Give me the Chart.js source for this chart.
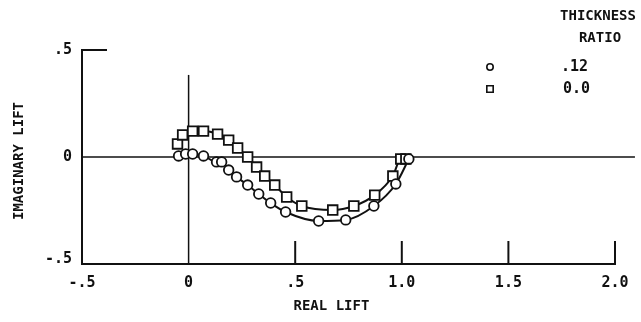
<!DOCTYPE html>
<html>
<head>
<meta charset="utf-8">
<script src="https://cdn.jsdelivr.net/npm/chart.js@4/dist/chart.umd.min.js"></script>
<style>
  html, body { margin: 0; padding: 0; background: #fff; }
  #wrap { width: 641px; height: 322px; }
</style>
</head>
<body>
<div id="wrap"><canvas id="liftChart" width="641" height="322"></canvas></div>
<script>
// Thickness ratio .12 (circles)
const thickRealLift = [-0.047, -0.014, 0.019, 0.070, 0.131, 0.155, 0.188, 0.225, 0.277, 0.329, 0.385, 0.455, 0.610, 0.737, 0.869, 0.972, 1.033];
const thickImagLift = [0.005, 0.014, 0.014, 0.005, -0.023, -0.023, -0.061, -0.093, -0.131, -0.173, -0.215, -0.257, -0.299, -0.294, -0.229, -0.126, -0.009];

// Thickness ratio 0.0 (squares)
const flatRealLift = [-0.052, -0.028, 0.019, 0.070, 0.136, 0.188, 0.230, 0.277, 0.319, 0.357, 0.404, 0.460, 0.531, 0.676, 0.775, 0.873, 0.958, 0.995, 1.019];
const flatImagLift = [0.061, 0.103, 0.121, 0.121, 0.107, 0.079, 0.042, 0.000, -0.047, -0.089, -0.131, -0.187, -0.229, -0.248, -0.229, -0.178, -0.089, -0.009, -0.009];

const xTicks = [-0.5, 0, 0.5, 1.0, 1.5, 2.0];
const xTickLabels = ['-.5', '0', '.5', '1.0', '1.5', '2.0'];
const yTicks = [-0.5, 0, 0.5];
const yTickLabels = ['-.5', '0', '.5'];

const legendTitle = ['THICKNESS', 'RATIO'];
const legendLabels = ['.12', '0.0'];

const FONT = '"DejaVu Sans Mono", "Liberation Mono", monospace';

function toPoints(xs, ys) {
    return xs.map((x, i) => ({ x: x, y: ys[i] }));
}

// axes, ticks, zero lines, labels and the legend are drawn by hand
const paperAxes = {
    id: 'paperAxes',
    beforeDatasetsDraw(chart) {
        const ctx = chart.ctx;
        const xs = chart.scales.x;
        const ys = chart.scales.y;
        const left = xs.getPixelForValue(-0.5);
        const right = xs.getPixelForValue(2.0);
        const top = ys.getPixelForValue(0.5);
        const bottom = ys.getPixelForValue(-0.5);
        const x0 = xs.getPixelForValue(0);
        const y0 = ys.getPixelForValue(0);

        ctx.save();
        ctx.strokeStyle = '#111';
        ctx.lineCap = 'square';

        // frame: left and bottom
        ctx.lineWidth = 2;
        ctx.beginPath();
        ctx.moveTo(left, top);
        ctx.lineTo(left, bottom);
        ctx.lineTo(right, bottom);
        ctx.stroke();

        // top tick on the y axis
        ctx.beginPath();
        ctx.moveTo(left, top);
        ctx.lineTo(left + 24, top);
        ctx.stroke();

        // x ticks
        xTicks.forEach(v => {
            if (v === -0.5 || v === 0) return;
            const px = xs.getPixelForValue(v);
            ctx.beginPath();
            ctx.moveTo(px, bottom);
            ctx.lineTo(px, bottom - 22);
            ctx.stroke();
        });

        // zero lines
        ctx.lineWidth = 1.5;
        ctx.beginPath();
        ctx.moveTo(left, y0);
        ctx.lineTo(xs.getPixelForValue(2.09), y0);
        ctx.stroke();
        ctx.beginPath();
        ctx.moveTo(x0, bottom);
        ctx.lineTo(x0, ys.getPixelForValue(0.38));
        ctx.stroke();

        // tick labels
        ctx.fillStyle = '#111';
        ctx.font = 'bold 15px ' + FONT;
        ctx.textAlign = 'center';
        ctx.textBaseline = 'middle';
        xTicks.forEach((v, i) => {
            ctx.fillText(xTickLabels[i], xs.getPixelForValue(v), bottom + 19);
        });
        ctx.textAlign = 'right';
        yTicks.forEach((v, i) => {
            const py = ys.getPixelForValue(v) - (v === -0.5 ? 5 : 0);
            ctx.fillText(yTickLabels[i], left - 10, py);
        });

        // axis titles
        ctx.font = 'bold 14px ' + FONT;
        ctx.textAlign = 'center';
        ctx.fillText('REAL LIFT', xs.getPixelForValue(0.67), bottom + 42);
        ctx.save();
        ctx.translate(19, y0 + 4);
        ctx.rotate(-Math.PI / 2);
        ctx.fillText('IMAGINARY LIFT', 0, 0);
        ctx.restore();

        // legend
        ctx.font = 'bold 14px ' + FONT;
        ctx.fillText(legendTitle[0], 598, 16);
        ctx.fillText(legendTitle[1], 600, 38);
        ctx.font = 'bold 15px ' + FONT;
        ctx.textAlign = 'left';
        ctx.fillText(legendLabels[0], 561, 67);
        ctx.fillText(legendLabels[1], 563, 89);
        ctx.lineWidth = 1.6;
        ctx.fillStyle = '#fff';
        Chart.helpers.drawPoint(ctx, { pointStyle: 'circle', radius: 3.2, borderWidth: 1.6 }, 490, 67);
        Chart.helpers.drawPoint(ctx, { pointStyle: 'rect', radius: 4.5, borderWidth: 1.6 }, 490, 89);
        ctx.restore();
    }
};

new Chart(document.getElementById('liftChart').getContext('2d'), {
    type: 'scatter',
    data: {
        datasets: [
            {
                label: '.12',
                data: toPoints(thickRealLift, thickImagLift),
                showLine: true,
                borderColor: '#111',
                borderWidth: 2,
                cubicInterpolationMode: 'monotone',
                pointStyle: 'circle',
                pointRadius: 4.8,
                pointBorderWidth: 1.8,
                pointBackgroundColor: '#fff',
                pointBorderColor: '#111'
            },
            {
                label: '0.0',
                data: toPoints(flatRealLift, flatImagLift),
                showLine: true,
                borderColor: '#111',
                borderWidth: 2,
                cubicInterpolationMode: 'monotone',
                pointStyle: 'rect',
                pointRadius: 6.8,
                pointBorderWidth: 1.8,
                pointBackgroundColor: '#fff',
                pointBorderColor: '#111'
            }
        ]
    },
    options: {
        responsive: false,
        animation: false,
        layout: { padding: { left: 82, right: 26, top: 50, bottom: 58 } },
        plugins: {
            legend: { display: false },
            tooltip: { enabled: false }
        },
        scales: {
            x: { type: 'linear', min: -0.5, max: 2.0, display: false },
            y: { type: 'linear', min: -0.5, max: 0.5, display: false }
        }
    },
    plugins: [paperAxes]
});
</script>
</body>
</html>
